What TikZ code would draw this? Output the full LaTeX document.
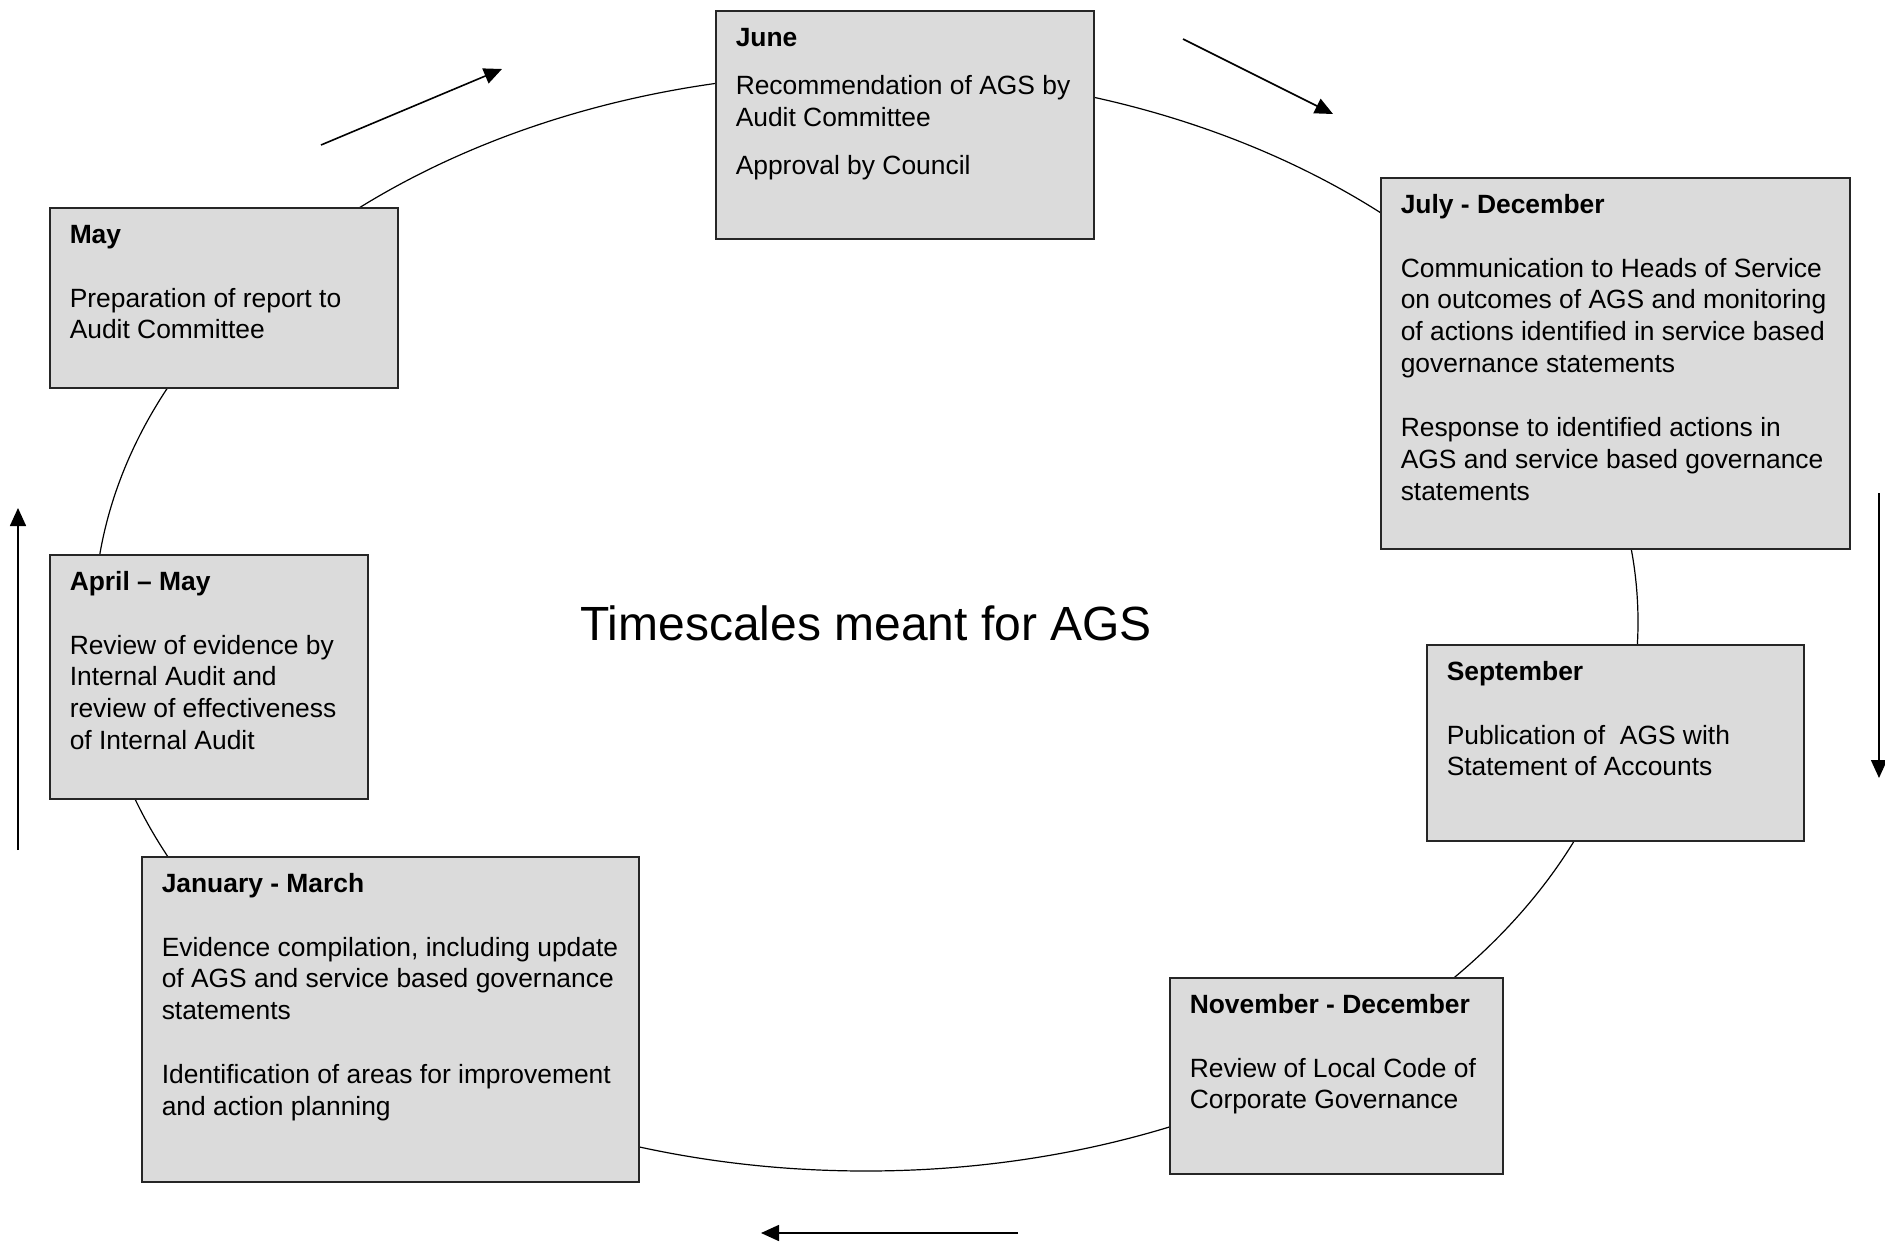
\documentclass[tikz,border=0pt]{standalone}
\usepackage{fontspec}
\setmainfont{Liberation Sans}
\usepackage{tikz}
\usetikzlibrary{arrows.meta}
\pgfdeclarelayer{bg}
\pgfsetlayers{bg,main}
\newcommand{\stagetext}[3]{\parbox[t][#2][t]{#1}{\raggedright\leftskip=10pt\rightskip=-15pt plus 1fil\rule{0pt}{17.8pt}#3}}
\tikzset{
        stage/.style={draw=black!85, line width=0.75pt, fill=black!14, inner sep=0pt, anchor=north west,
                font=\fontsize{13.2pt}{15.93pt}\selectfont},
        flow/.style={line width=0.8pt, -{Triangle[length=9pt, width=8pt]}}
}

\begin{document}
\begin{tikzpicture}[x=0.5pt, y=-0.5pt]
        \path[use as bounding box] (0,0) rectangle (1885,1242);
        \coordinate (centre) at (866,622);
        \node (june) [stage] at (715,10) {\stagetext{189pt}{114pt}{\textbf{June}\\[8.2pt]
                Recommendation of AGS by\\Audit Committee\\[8.2pt]Approval by Council}};
        \node (may) [stage] at (49,207) {\stagetext{174pt}{90pt}{\textbf{May}\\[\baselineskip]
                Preparation of report to\\Audit Committee}};
        \node (julydec) [stage] at (1380,177) {\stagetext{234.5pt}{185.5pt}{\textbf{July - December}\\[\baselineskip]
                Communication to Heads of Service\\on outcomes of AGS and monitoring\\of actions identified in service based\\governance statements\\[\baselineskip]
                Response to identified actions in\\AGS and service based governance\\statements}};
        \node (aprilmay) [stage] at (49,554) {\stagetext{159pt}{122pt}{\textbf{April – May}\\[\baselineskip]
                Review of evidence by\\Internal Audit and\\review of effectiveness\\of Internal Audit}};
        \node (sept) [stage] at (1426,644) {\stagetext{188.5pt}{98pt}{\textbf{September}\\[\baselineskip]
                Publication of \ AGS with\\Statement of Accounts}};
        \node (janmar) [stage] at (141,856) {\stagetext{248.5pt}{162.5pt}{\textbf{January - March}\\[\baselineskip]
                Evidence compilation, including update\\of AGS and service based governance\\statements\\[\baselineskip]
                Identification of areas for improvement\\and action planning}};
        \node (novdec) [stage] at (1169,977) {\stagetext{166.5pt}{98pt}{\textbf{November - December}\\[\baselineskip]
                Review of Local Code of\\Corporate Governance}};
        \node (title) [font=\fontsize{24pt}{28pt}\selectfont] at (866,623) {Timescales meant for AGS};
        \coordinate (a1s) at (321,145);
        \coordinate (a1e) at (502,69);
        \coordinate (a2s) at (1183,39);
        \coordinate (a2e) at (1333,114);
        \coordinate (a3s) at (1879,493);
        \coordinate (a3e) at (1879,778);
        \coordinate (a4s) at (1018,1233);
        \coordinate (a4e) at (761,1233);
        \coordinate (a5s) at (18,850);
        \coordinate (a5e) at (18,508);
        \draw[flow] (a1s) -- (a1e);
        \draw[flow] (a2s) -- (a2e);
        \draw[flow] (a3s) -- (a3e);
        \draw[flow] (a4s) -- (a4e);
        \draw[flow] (a5s) -- (a5e);
        \begin{pgfonlayer}{bg}
                \draw[line width=0.6pt] (centre) ellipse [x radius=386pt, y radius=274.5pt];
        \end{pgfonlayer}
\end{tikzpicture}
\end{document}
